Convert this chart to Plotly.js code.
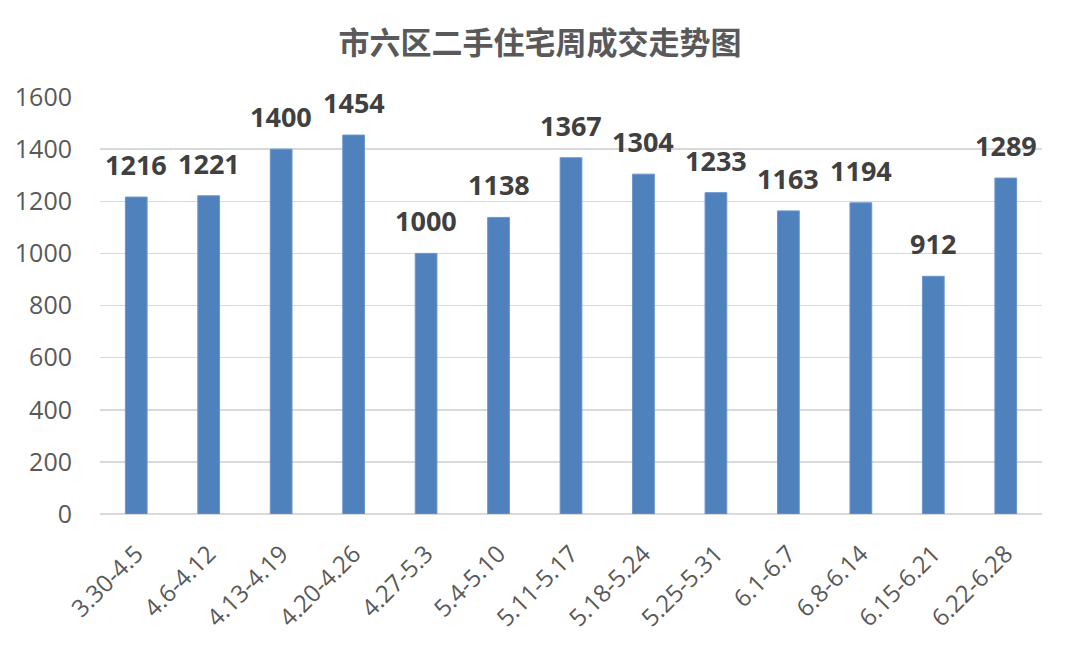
<!DOCTYPE html>
<html>
<head>
<meta charset="utf-8">
<script src="https://cdn.plot.ly/plotly-3.0.1.min.js"></script>
<style>html,body{margin:0;padding:0;background:#fff;}#chart{width:1080px;height:656px;}</style>
</head>
<body>
<div id="chart"></div>
<script>
const categories = ["3.30-4.5","4.6-4.12","4.13-4.19","4.20-4.26","4.27-5.3","5.4-5.10","5.11-5.17","5.18-5.24","5.25-5.31","6.1-6.7","6.8-6.14","6.15-6.21","6.22-6.28"];
const values = [1216,1221,1400,1454,1000,1138,1367,1304,1233,1163,1194,912,1289];
const yTicks = [0,200,400,600,800,1000,1200,1400,1600];
const chartTitle = "市六区二手住宅周成交走势图";

const trace = {
  type: "bar",
  x: categories,
  y: values,
  cliponaxis: false,
  marker: {color: "#4F81BD", line: {color: "#6A96CC", width: 1}},
  hoverinfo: "skip"
};

const labelAnnotations = categories.map((c, i) => ({
  x: c, y: values[i], xref: "x", yref: "y",
  text: String(values[i]),
  showarrow: false,
  xanchor: "center", yanchor: "bottom",
  yshift: 12,
  font: {family: "'Open Sans', 'Noto Sans', sans-serif", size: 27, color: "#404040", weight: "bold"}
}));

const layout = {
  width: 1080, height: 656,
  paper_bgcolor: "#fff", plot_bgcolor: "#fff",
  margin: {l: 100, r: 38, t: 97, b: 142},
  bargap: 0.7,
  showlegend: false,
  annotations: labelAnnotations,
  title: {
    text: chartTitle,
    font: {family: "'Noto Sans CJK SC', sans-serif", size: 31, color: "#595959", weight: "bold"},
    x: 0.5, xanchor: "center", y: 1 - 43/656, yanchor: "middle", yref: "container"
  },
  xaxis: {
    type: "category",
    tickangle: -45,
    tickfont: {family: "'Open Sans', 'Noto Sans', sans-serif", size: 24, color: "#595959"},
    showgrid: false, showline: false, ticks: "", zeroline: false,
    ticklabelstandoff: 20
  },
  yaxis: {
    range: [0, 1600],
    tickvals: yTicks,
    ticktext: yTicks.map(String),
    tickfont: {family: "'Open Sans', 'Noto Sans', sans-serif", size: 25, color: "#595959"},
    gridcolor: "#D9D9D9", gridwidth: 1.5,
    zeroline: true, zerolinecolor: "#D9D9D9", zerolinewidth: 1.5,
    showline: false, ticks: "",
    ticklabelstandoff: 27
  }
};

Plotly.newPlot("chart", [trace], layout, {displayModeBar: false, staticPlot: true});
</script>
</body>
</html>
